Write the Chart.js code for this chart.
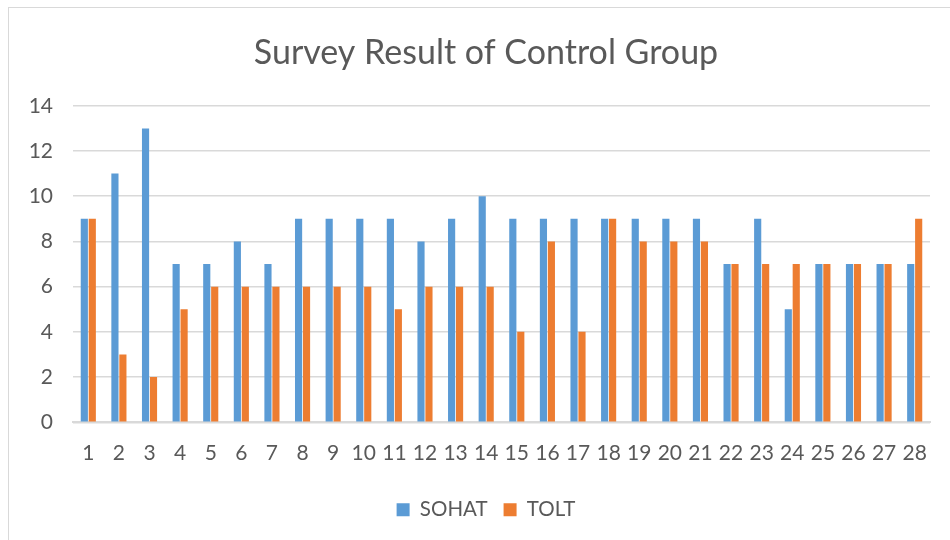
<!DOCTYPE html>
<html>
<head>
<meta charset="utf-8">
<script src="https://cdn.jsdelivr.net/npm/chart.js@4/dist/chart.umd.min.js"></script>
<style>
  html, body { margin: 0; padding: 0; background: #fff; overflow: hidden; }
  #box {
    position: absolute; left: 8px; top: 7px;
    width: 954px; height: 540px;
    border: 1px solid #d9d9d9;
  }
</style>
</head>
<body>
<div id="box"><canvas id="myChart" width="954" height="540"></canvas></div>
<script>
const labels = ['1','2','3','4','5','6','7','8','9','10','11','12','13','14','15','16','17','18','19','20','21','22','23','24','25','26','27','28']
const sohat = [9, 11, 13, 7, 7, 8, 7, 9, 9, 9, 9, 8, 9, 10, 9, 9, 9, 9, 9, 9, 9, 7, 9, 5, 7, 7, 7, 7]
const tolt = [9, 3, 2, 5, 6, 6, 6, 6, 6, 6, 5, 6, 6, 6, 4, 8, 4, 9, 8, 8, 8, 7, 7, 7, 7, 7, 7, 9]

const fontFamily = 'Lato, "Open Sans", sans-serif'
const textColor = '#595959'

const el = document.getElementById('myChart')

const data = {
    labels: labels,
    datasets: [{
        label: 'SOHAT',
        data: sohat,
        backgroundColor: '#5b9bd5',
        categoryPercentage: 0.52,
        barPercentage: 0.9
    }, {
        label: 'TOLT',
        data: tolt,
        backgroundColor: '#ed7d31',
        categoryPercentage: 0.52,
        barPercentage: 0.9
    }]
}

const config = {
    type: 'bar',
    data: data,
    options: {
        responsive: false,
        animation: false,
        layout: {
            padding: { left: 0, right: 0, top: 0, bottom: 18 }
        },
        plugins: {
            title: {
                display: true,
                text: 'Survey Result of Control Group',
                color: textColor,
                font: { family: fontFamily, size: 34, weight: 'normal' },
                padding: { top: 25, bottom: 32 }
            },
            legend: {
                position: 'bottom',
                labels: {
                    color: textColor,
                    font: { family: fontFamily, size: 20.5 },
                    boxWidth: 13,
                    boxHeight: 13,
                    padding: 16
                }
            },
            tooltip: { enabled: false }
        },
        scales: {
            x: {
                grid: { display: false },
                border: { display: true, color: '#d9d9d9', width: 2 },
                ticks: {
                    color: textColor,
                    font: { family: fontFamily, size: 21 },
                    maxRotation: 0,
                    autoSkip: false,
                    padding: 10
                },
                afterFit: (scale) => { scale.height += 8 }
            },
            y: {
                min: 0,
                max: 14,
                ticks: {
                    stepSize: 2,
                    color: textColor,
                    font: { family: fontFamily, size: 21 },
                    padding: 20
                },
                grid: { color: '#d9d9d9', lineWidth: 1.5, drawTicks: false },
                border: { display: false },
                afterFit: (scale) => { scale.width = 64 }
            },
            // empty axis on the right, only keeps the plot clear of the edge
            yRight: {
                position: 'right',
                ticks: { display: false },
                grid: { display: false },
                border: { display: false },
                afterFit: (scale) => { scale.width = 33 }
            }
        }
    }
}

const myChart = new Chart(el, config)
</script>
</body>
</html>
